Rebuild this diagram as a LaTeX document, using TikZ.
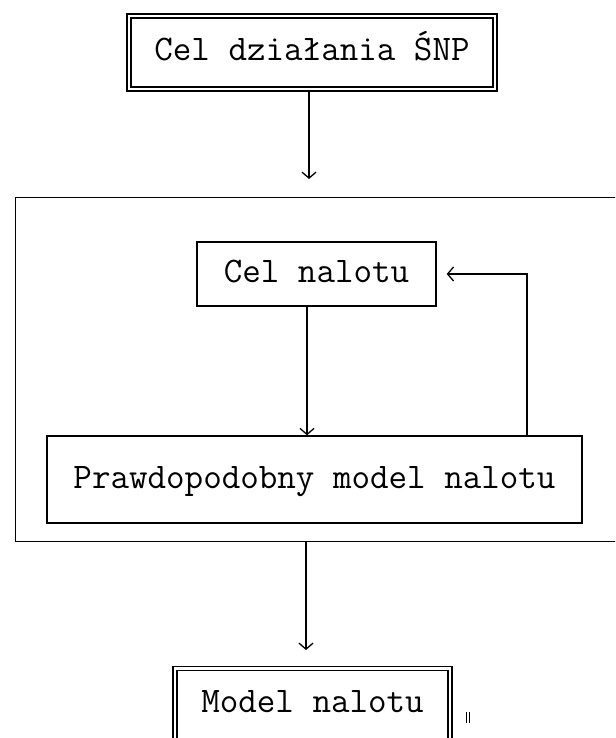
\documentclass[tikz,border=0pt]{standalone}
\usetikzlibrary{arrows.meta}
\begin{document}
\begin{tikzpicture}[x=1pt,y=-1pt,
  every node/.style={font=\ttfamily\fontsize{36}{42}\selectfont},
  box/.style={draw, line width=1.4pt, inner sep=0pt, text height=22pt, text depth=5pt},
  dbox/.style={box, line width=1.3pt, double, double distance=2.6pt},
  arr/.style={line width=1.3pt, -{Straight Barb[length=6pt,width=14pt,line width=1.3pt]}}]
\clip (0,0) rectangle (615,738);
\node[dbox, minimum width=366pt, minimum height=73pt] (top) at (312,52.5) {Cel działania ŚNP};
\node[draw, line width=1.4pt, minimum width=640pt, minimum height=344pt, anchor=north west] (frame) at (15,197) {};
\node[box, minimum width=239pt, minimum height=64pt] (cel) at (316.5,274) {Cel nalotu};
\node[box, minimum width=535pt, minimum height=87pt] (pr) at (314.5,479.5) {Prawdopodobny model nalotu};
\node[dbox, minimum width=275pt, anchor=north, inner ysep=22pt, text depth=10pt] (model) at (312.5,668) {Model nalotu};
\coordinate (c1) at (309,0);
\coordinate (c2) at (307,0);
\coordinate (c3) at (306,0);
\coordinate (c4) at (527,0);
\draw[arr, shorten >=18pt] (top.south -| c1) -- (frame.north -| c1);
\draw[arr] (cel.south -| c2) -- (pr.north -| c2);
\draw[arr, shorten >=18pt] (frame.south -| c3) -- (model.north -| c3);
\draw[arr, shorten >=10pt] (pr.north -| c4) |- (cel.east);
\draw[line width=0.8pt] (466,712) -- (466,723) (469.5,712) -- (469.5,723);
\end{tikzpicture}
\end{document}
